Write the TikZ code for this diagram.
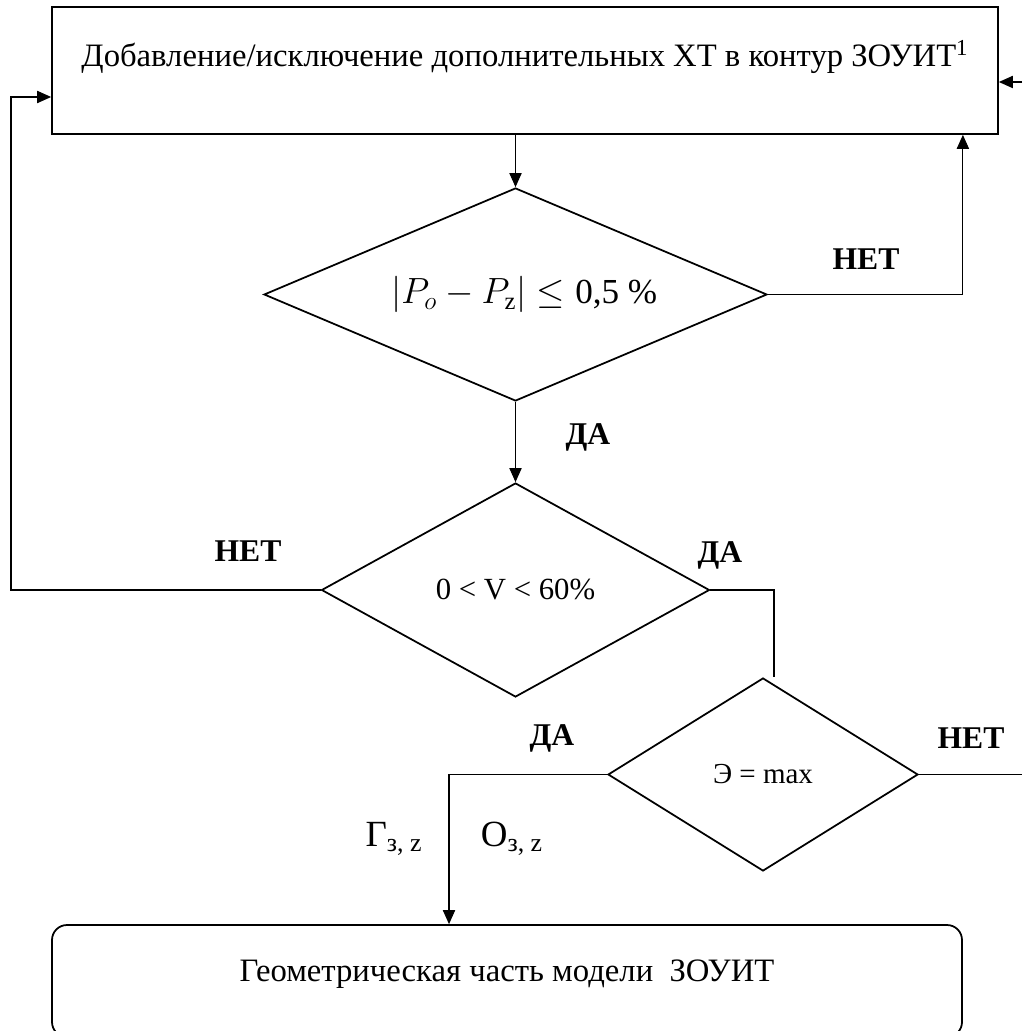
\documentclass[tikz,border=0pt]{standalone}
\usepackage{fontspec}
\setmainfont{Liberation Serif}
\usepackage{tikz}
\usetikzlibrary{shapes.geometric, arrows.meta}

\begin{document}
\begin{tikzpicture}[
  box/.style={draw, line width=1pt, inner sep=0pt, font=\fontsize{18.6}{22}\selectfont},
  decision/.style={draw, diamond, line width=1pt, inner sep=0pt},
  lbl/.style={font=\fontsize{18}{21}\selectfont\bfseries},
  flow/.style={line width=0.6pt},
  >={Triangle[length=8pt,width=7pt]}]
  \useasboundingbox (0,0) rectangle (20.44,-20.62);
           \node[box, minimum width=18.92cm, minimum height=2.54cm, text height=0.45cm, text depth=0.62cm](add)  at (10.50,-1.41) {Добавление/исключение дополнительных ХТ в контур ЗОУИТ\textsuperscript{1}};
           \node[decision, shape aspect=2.36, minimum width=10.06cm, minimum height=4.26cm](dp)  at (10.31,-5.89) {\fontsize{20}{24}\selectfont\hspace{0.35cm}$\Bigl|P_o - P_{\mathrm{z}}\Bigr| \le{}$0,5 \%};
           \node[decision, shape aspect=1.81, minimum width=7.76cm, minimum height=4.28cm](dv)  at (10.31,-11.80) {\fontsize{17.5}{20}\selectfont 0 < V < 60\%};
           \node[decision, shape aspect=1.6, minimum width=6.2cm, minimum height=3.86cm](de)  at (15.26,-15.49) {\fontsize{16.5}{19}\selectfont Э = max};
           \node[box, rounded corners=0.3cm, minimum width=18.2cm, minimum height=2.24cm, text height=0.45cm, text depth=0.45cm](geom)  at (10.14,-19.62) {Геометрическая часть модели\ \ ЗОУИТ};
      \coordinate (nl) at (0.22,-11.80);
      \coordinate (tr) at (20.44,-1.64);
      \coordinate (nr) at (20.44,-15.49);
      \draw[->, flow] (dp.north |- add.south) -- (dp.north);
      \draw[->, flow] (dp.east) -| ([xshift=-0.72cm]add.south east);
      \draw[->, flow] (dp.south) -- (dv.north);
      \draw[->, flow] (dv.west) -- (nl) |- ([yshift=-0.53cm]add.west);
      \draw[->, flow] (tr) -- ([yshift=-0.23cm]add.east);
      \draw[flow] (dv.east) -| ([xshift=0.22cm]de.north);
      \draw[flow] (de.east) -- (nr);
      \draw[->, flow] (de.west) -| ([xshift=-1.16cm]geom.north);
       \node[lbl](no1) at (17.32,-5.18) {НЕТ};
       \node[lbl](yes1) at (11.76,-8.74) {ДА};
       \node[lbl](no2) at (4.96,-11.02) {НЕТ};
       \node[lbl](yes2) at (14.40,-11.10) {ДА};
       \node[lbl](yes3) at (11.04,-14.76) {ДА};
       \node[lbl](no3) at (19.42,-14.76) {НЕТ};
        \node[font=\fontsize{21}{24}\selectfont](gz) at (7.88,-16.78) {Γ\textsubscript{з, z}};
        \node[font=\fontsize{21}{24}\selectfont](oz) at (10.24,-16.78) {O\textsubscript{з, z}};
          \end{tikzpicture}
\end{document}
